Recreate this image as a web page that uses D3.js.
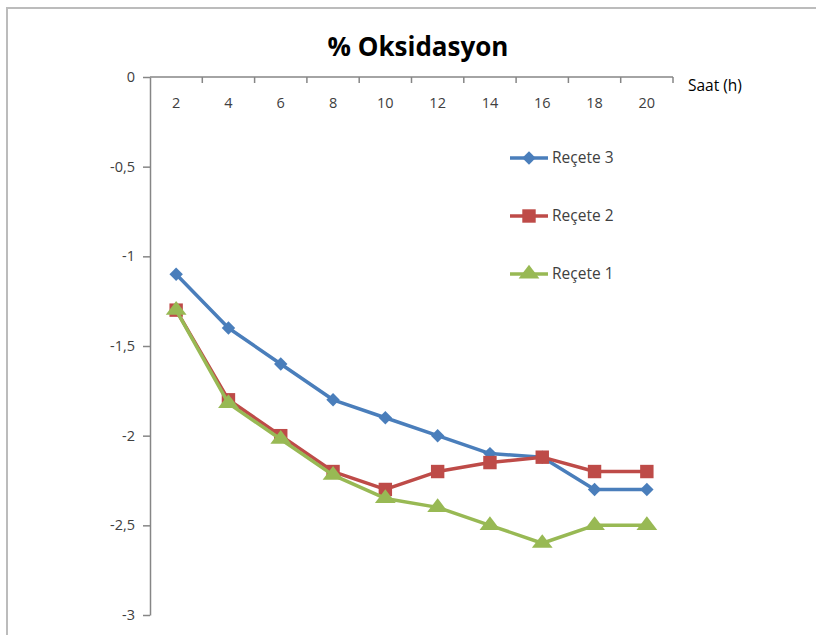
<!DOCTYPE html>
<html>
<head>
<meta charset="utf-8">
<script src="https://cdn.jsdelivr.net/npm/d3@7.9.0/dist/d3.min.js"></script>
<style>
  body { margin: 0; background: #fff; }
  svg { display: block; font-family: "Open Sans", "Liberation Sans", sans-serif; }
</style>
</head>
<body>
<svg width="816" height="635"></svg>
<script>
const hours = [2, 4, 6, 8, 10, 12, 14, 16, 18, 20];
const yTicks = [0, -0.5, -1, -1.5, -2, -2.5, -3];

const recete3 = [-1.1, -1.4, -1.6, -1.8, -1.9, -2.0, -2.1, -2.12, -2.3, -2.3];
const recete2 = [-1.3, -1.8, -2.0, -2.2, -2.3, -2.2, -2.15, -2.12, -2.2, -2.2];
const recete1 = [-1.3, -1.82, -2.02, -2.22, -2.35, -2.4, -2.5, -2.6, -2.5, -2.5];

const series = [
  { name: "Reçete 3", values: recete3, color: "#4A7EBB", symbol: "diamond" },
  { name: "Reçete 2", values: recete2, color: "#BE4B48", symbol: "square" },
  { name: "Reçete 1", values: recete1, color: "#98B954", symbol: "triangle" }
];

const svg = d3.select("svg");

// chart area border (only top and left show in the frame)
svg.append("path")
  .attr("d", "M7,640 V8 H830")
  .attr("fill", "none")
  .attr("stroke", "#bcbcbc")
  .attr("stroke-width", 2);

svg.append("text")
  .attr("x", 418).attr("y", 56)
  .attr("text-anchor", "middle")
  .attr("font-size", 26).attr("font-weight", "bold")
  .attr("fill", "#000")
  .text("% Oksidasyon");

const x = d3.scaleBand().domain(hours).range([150, 673]);
const y = d3.scaleLinear().domain([-3, 0]).range([615, 77]);

// y axis
const yAxis = svg.append("g")
  .attr("transform", "translate(150,0)")
  .call(d3.axisLeft(y).tickValues(yTicks).tickSize(7).tickSizeOuter(0)
    .tickFormat(d => String(d).replace(".", ",")));
yAxis.select(".domain").attr("stroke", "#868686").attr("stroke-width", 1.5);
yAxis.selectAll(".tick line").attr("stroke", "#868686").attr("stroke-width", 1.5);
yAxis.selectAll(".tick text")
  .attr("font-size", 14.5).attr("fill", "#404040")
  .attr("x", -15).attr("font-family", "Open Sans, sans-serif");

// x axis at y = 0, ticks between categories
const xAxis = svg.append("g").attr("transform", `translate(0,${y(0)})`);
xAxis.append("line")
  .attr("x1", 150).attr("x2", 673)
  .attr("stroke", "#868686").attr("stroke-width", 1.5);
const bounds = hours.map(h => x(h)).concat([x.range()[1]]);
xAxis.selectAll("line.tk").data(bounds.slice(1)).join("line")
  .attr("class", "tk")
  .attr("x1", d => d).attr("x2", d => d)
  .attr("y1", 0).attr("y2", 6)
  .attr("stroke", "#868686").attr("stroke-width", 1.5);
xAxis.selectAll("text").data(hours).join("text")
  .attr("x", d => x(d) + x.bandwidth() / 2)
  .attr("y", 31)
  .attr("text-anchor", "middle")
  .attr("font-size", 14.5).attr("fill", "#404040")
  .text(d => d);

svg.append("text")
  .attr("x", 688).attr("y", 91)
  .attr("font-size", 15.5).attr("fill", "#000")
  .text("Saat (h)");

const symbolType = { diamond: d3.symbolSquare, square: d3.symbolSquare, triangle: d3.symbolTriangle };
const symbolSize = { diamond: 90, square: 180, triangle: 120 };
const symbolTf = { diamond: " rotate(45)", square: "", triangle: " scale(1.25,0.95)" };
const cx = i => x(hours[i]) + x.bandwidth() / 2;

const line = d3.line().x((d, i) => cx(i)).y(d => y(d));

// draw back-to-front: Reçete 3, then 2, then 1 on top
series.forEach(s => {
  const g = svg.append("g");
  g.append("path")
    .attr("d", line(s.values))
    .attr("fill", "none")
    .attr("stroke", s.color)
    .attr("stroke-width", 3.5)
    .attr("stroke-linejoin", "round");
  g.selectAll("path.m").data(s.values).join("path")
    .attr("class", "m")
    .attr("transform", (d, i) => `translate(${cx(i)},${y(d)})` + symbolTf[s.symbol])
    .attr("d", d3.symbol().type(symbolType[s.symbol]).size(symbolSize[s.symbol]))
    .attr("fill", s.color);
});

// legend
const legend = svg.append("g");
series.forEach((s, i) => {
  const ly = 158 + i * 58;
  legend.append("line")
    .attr("x1", 510).attr("x2", 548).attr("y1", ly).attr("y2", ly)
    .attr("stroke", s.color).attr("stroke-width", 3.5);
  legend.append("path")
    .attr("transform", `translate(529,${ly})` + symbolTf[s.symbol])
    .attr("d", d3.symbol().type(symbolType[s.symbol]).size(symbolSize[s.symbol]))
    .attr("fill", s.color);
  legend.append("text")
    .attr("x", 552).attr("y", ly + 5)
    .attr("font-size", 15.5).attr("fill", "#404040")
    .text(s.name);
});
</script>
</body>
</html>
